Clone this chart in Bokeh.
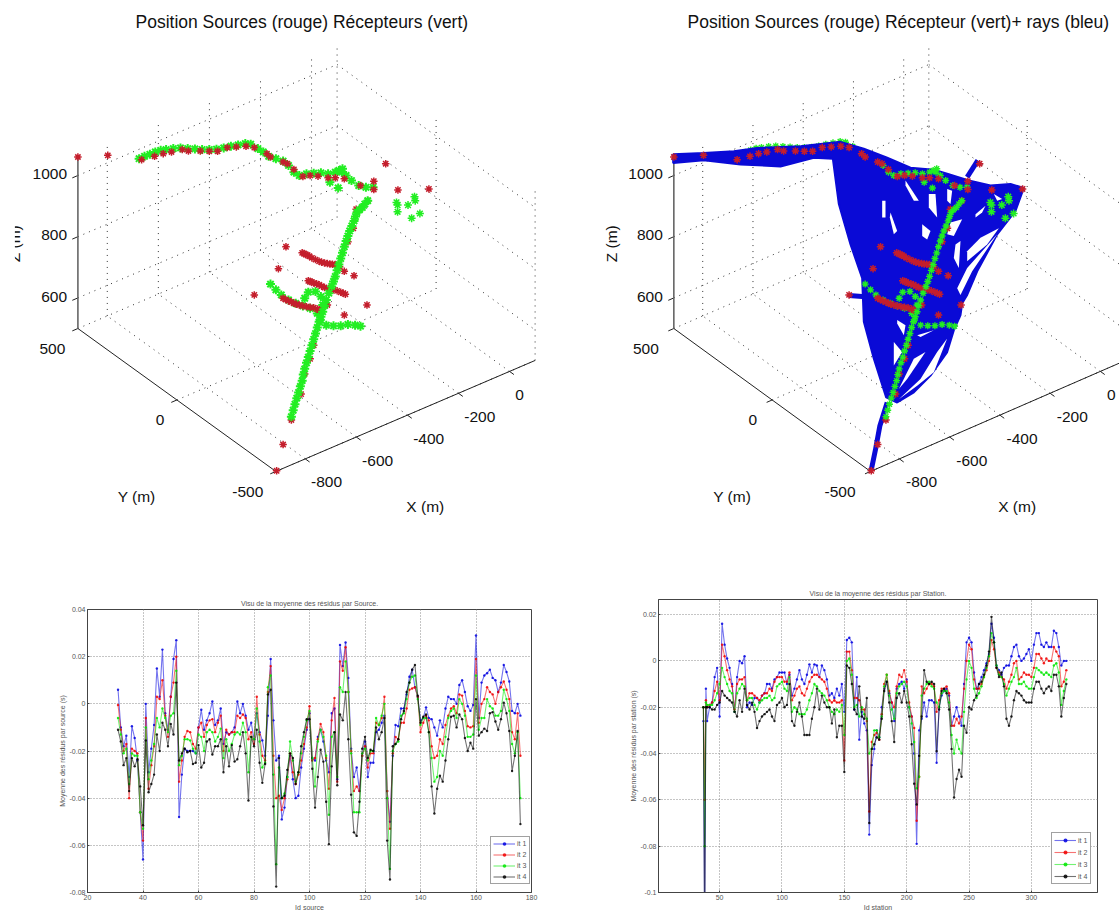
import numpy as np
from bokeh.embed import file_html
from bokeh.resources import INLINE
from bokeh.layouts import column, row
from bokeh.models import Range1d, FixedTicker, Legend, LegendItem, Title
from bokeh.plotting import figure
from bokeh.core.properties import value

FONT = "Liberation Sans"

# ---------- Residuals per source (ids 31..176) ----------
src_it1 = [.006,-.010,-.018,-.0135,-.031,-.0095,-.0145,-.024,-.046,-.066,
 0,-.029,-.019,-.009,.015,.003,.023,-.004,-.011,.003,
 .019,.027,-.048,-.030,-.019,-.020,-.020,-.020,-.021,-.010,
 -.0025,-.011,-.007,-.004,.001,-.009,-.007,-.002,-.017,-.012,
 -.013,-.012,-.010,.001,-.004,0,-.005,-.011,-.008,-.015,
 -.004,-.012,-.0155,-.022,-.005,.019,-.007,-.024,-.022,-.049,
 -.044,-.031,-.022,-.032,-.040,-.039,-.027,-.019,-.011,-.004,
 -.023,-.024,-.014,-.011,-.016,-.024,-.029,-.004,-.002,-.032,
 .025,.016,.026,.011,-.019,-.031,-.027,-.037,-.022,-.016,
 -.031,-.025,-.025,-.012,-.011,-.008,-.005,-.037,-.050,-.022,
 -.009,-.0095,-.002,-.002,.004,.0115,.0145,.007,.003,-.007,
 -.006,-.0015,-.006,-.0065,-.010,-.0135,-.007,-.010,-.002,.003,
 .002,.002,0,.008,.010,.005,-.001,-.003,-.0005,.029,
 -.006,.009,.012,.013,.0145,.011,.010,.005,.009,.0165,
 .0135,.0095,-.003,-.004,0,-.005]
src_it2 = [-.0005,-.011,-.020,-.017,-.040,-.019,-.020,-.021,-.046,-.058,
 -.006,-.036,-.026,-.018,.003,.002,.010,-.005,-.014,.003,
 .009,.020,-.033,-.024,-.014,-.0115,-.012,-.017,-.019,-.010,
 -.008,-.014,-.009,-.007,-.0065,-.012,-.008,-.005,-.020,-.011,
 -.013,-.012,-.012,-.005,-.006,-.0045,-.006,-.015,-.012,-.017,
 .003,-.013,-.022,-.024,.005,.016,-.022,-.040,-.039,-.045,
 -.040,-.032,-.021,-.029,-.034,-.030,-.024,-.017,-.010,-.001,
 -.024,-.023,-.015,-.0085,-.012,-.023,-.036,-.007,.0025,-.033,
 .018,.014,.024,.005,-.020,-.037,-.035,-.037,-.022,-.018,
 -.027,-.021,-.021,-.008,-.009,-.006,.003,-.037,-.053,-.021,
 -.014,-.015,-.008,-.008,-.002,.006,.0065,.007,.003,-.012,
 -.008,-.005,-.007,-.018,-.023,-.022,-.015,-.017,-.009,-.005,
 -.002,-.001,-.004,.004,.0035,-.003,-.0095,-.010,-.0095,.019,
 -.008,0,.002,.007,.005,.004,0,.005,.007,.0095,
 .006,.002,-.012,-.015,-.004,-.022]
src_it3 = [-.006,-.013,-.021,-.019,-.034,-.021,-.022,-.022,-.046,-.053,
 -.010,-.032,-.024,-.017,-.006,-.010,-.002,-.006,-.012,-.005,
 -.004,.014,-.026,-.022,-.015,-.015,-.0155,-.019,-.021,-.013,
 -.014,-.020,-.012,-.011,-.012,-.016,-.014,-.0105,-.023,-.015,
 -.020,-.017,-.013,-.012,-.013,-.008,-.012,-.029,-.014,-.015,
 -.002,-.016,-.027,-.025,.007,.012,-.030,-.068,-.027,-.040,
 -.038,-.031,-.016,-.024,-.033,-.029,-.021,-.014,-.007,-.003,
 -.023,-.035,-.016,-.011,-.014,-.022,-.047,-.014,-.012,-.031,
 .007,.005,.018,.005,-.021,-.046,-.046,-.046,-.021,-.019,
 -.024,-.020,-.020,-.006,-.009,-.005,0,-.040,-.070,-.020,
 -.017,-.016,-.005,-.004,.002,.009,.0115,.012,.002,-.009,
 -.006,-.006,-.012,-.023,-.033,-.031,-.020,-.022,-.014,-.006,
 -.003,-.002,-.006,.002,0,-.005,-.014,-.014,-.013,.012,
 -.011,-.006,-.006,.002,-.001,-.002,-.005,-.005,-.003,.006,
 .002,-.003,-.017,-.021,-.012,-.040]
src_it4 = [-.011,-.016,-.026,-.023,-.037,-.023,-.0265,-.0235,-.035,-.0515,
 -.0155,-.0375,-.034,-.030,-.013,-.020,-.008,-.011,-.018,-.0085,
 -.013,.009,-.024,-.021,-.019,-.0205,-.020,-.0255,-.025,-.0175,
 -.027,-.025,-.016,-.015,-.0215,-.018,-.018,-.015,-.029,-.018,
 -.0265,-.0175,-.0245,-.0235,-.018,-.012,-.021,-.041,-.014,-.018,
 -.011,-.025,-.0335,-.0255,.004,.006,-.0435,-.0775,-.023,-.040,
 -.039,-.028,-.021,-.023,-.034,-.029,-.018,-.012,-.0065,-.0065,
 -.0275,-.044,-.031,-.0195,-.0245,-.0415,-.0595,-.0265,-.012,-.0345,
 -.0045,-.007,.005,-.015,-.0385,-.0545,-.056,-.0415,-.019,-.014,
 -.023,-.0195,-.020,-.010,-.015,-.012,-.006,-.058,-.0745,-.018,
 -.017,-.015,-.0065,-.003,.005,.009,.0145,.0165,.0035,-.008,
 -.0055,-.0045,-.012,-.035,-.0465,-.036,-.0305,-.033,-.024,-.015,
 -.0055,-.005,-.010,-.0045,-.0065,-.0145,-.020,-.0165,-.019,.002,
 -.0135,-.012,-.0105,-.0115,-.004,-.0035,-.0075,-.011,-.0065,.0005,
 -.004,-.0115,-.0285,-.022,-.0115,-.051]

# ---------- Residuals per station (ids 37,38,39 then every second id 40..328) ----------
sta_ids_head = [37, 38, 39]
sta_it1 = [-.026,-.12,-.012,
 -.026,-.020,-.018,-.007,-.003,-.024,.016,.007,.001,-.003,
 -.010,-.022,-.007,0,-.001,.002,-.020,-.018,-.019,-.016,
 -.016,-.018,-.015,-.014,-.010,-.010,-.012,-.008,-.007,-.005,
 -.005,-.005,-.010,-.006,-.015,-.012,-.008,-.004,-.008,-.010,
 -.006,-.0015,-.005,-.0015,-.002,-.007,-.002,-.004,-.008,-.015,
 -.014,-.016,-.012,-.015,-.010,-.022,.009,.010,.008,-.021,
 -.007,-.034,-.022,-.027,-.030,-.075,-.045,-.038,-.030,-.033,
 -.020,-.012,-.009,-.014,-.018,-.026,-.012,-.010,-.009,-.012,
 -.008,-.020,-.024,-.040,-.079,-.030,-.025,-.018,-.024,-.017,
 -.017,-.018,-.044,-.020,-.015,-.013,-.012,-.015,-.028,-.024,
 -.020,-.024,-.028,-.010,.008,.010,.008,-.005,-.012,-.010,
 -.007,-.004,-.001,.003,.016,.010,-.002,-.004,-.006,-.003,
 -.002,-.002,.002,.006,.007,.002,0,.001,.003,.005,
 0,.007,.012,.012,.007,.006,.008,.006,.006,.013,
 .012,.006,-.002,0,0]
sta_it2 = [-.020,-.06,-.017,
 -.020,-.019,-.018,-.013,-.009,-.017,.007,.002,-.004,-.008,
 -.011,-.021,-.010,-.008,-.008,-.007,-.017,-.014,-.014,-.015,
 -.016,-.017,-.015,-.014,-.014,-.012,-.013,-.009,-.007,-.007,
 -.007,-.009,-.009,-.005,-.017,-.015,-.012,-.011,-.014,-.015,
 -.012,-.009,-.007,-.006,-.006,-.007,-.008,-.009,-.012,-.017,
 -.018,-.017,-.018,-.018,-.017,-.043,.004,.004,-.004,-.016,
 -.016,-.017,-.021,-.021,-.026,-.065,-.035,-.032,-.031,-.034,
 -.023,-.010,-.006,-.013,-.018,-.020,-.011,-.006,-.007,-.004,
 -.009,-.018,-.024,-.029,-.069,-.050,-.011,-.014,-.012,-.010,
 -.010,-.011,-.022,-.017,-.012,-.012,-.011,-.014,-.028,-.028,
 -.025,-.027,-.024,-.012,0,.007,.005,-.008,-.012,-.012,
 -.010,-.007,-.004,0,.009,.005,-.003,-.005,-.007,-.008,
 -.012,-.009,-.006,-.001,0,-.008,-.007,-.005,-.006,-.006,
 -.007,-.003,.003,.003,.001,-.001,.001,0,0,.006,
 .004,.002,-.011,-.009,-.004]
sta_it3 = [-.020,-.08,-.018,
 -.019,-.019,-.019,-.017,-.014,-.010,-.003,-.007,-.010,-.013,
 -.014,-.022,-.014,-.012,-.010,-.011,-.017,-.016,-.016,-.019,
 -.021,-.018,-.017,-.016,-.016,-.015,-.017,-.016,-.011,-.010,
 -.009,-.012,-.013,-.007,-.022,-.020,-.021,-.023,-.023,-.023,
 -.021,-.017,-.014,-.010,-.011,-.013,-.014,-.015,-.017,-.020,
 -.022,-.023,-.021,-.022,-.019,-.032,0,.001,-.006,-.020,
 -.019,-.024,-.020,-.023,-.025,-.040,-.038,-.030,-.030,-.033,
 -.024,-.011,-.006,-.015,-.021,-.025,-.014,-.011,-.010,-.009,
 -.011,-.020,-.027,-.035,-.055,-.050,-.015,-.012,-.010,-.009,
 -.011,-.012,-.018,-.020,-.014,-.013,-.013,-.018,-.032,-.040,
 -.034,-.038,-.040,-.022,-.008,0,-.003,-.012,-.016,-.014,
 -.011,-.007,-.003,.002,.012,.008,-.002,-.006,-.007,-.010,
 -.015,-.012,-.009,-.007,-.003,-.010,-.010,-.009,-.011,-.012,
 -.012,-.007,-.003,-.004,-.005,-.006,-.005,-.006,-.007,-.002,
 -.001,-.005,-.019,-.013,-.008]
sta_it4 = [-.020,-.12,-.020,
 -.020,-.020,-.021,-.021,-.019,-.018,-.013,-.015,-.016,-.017,
 -.018,-.022,-.024,-.017,-.022,-.012,-.019,-.021,-.018,-.022,
 -.029,-.026,-.024,-.023,-.022,-.021,-.024,-.026,-.019,-.018,
 -.016,-.020,-.019,-.010,-.026,-.028,-.022,-.018,-.024,-.032,
 -.032,-.032,-.025,-.020,-.012,-.021,-.015,-.018,-.020,-.020,
 -.027,-.021,-.033,-.028,-.028,-.048,-.002,-.003,-.010,-.021,
 -.023,-.011,-.024,-.025,-.016,-.070,-.038,-.036,-.033,-.034,
 -.025,-.013,-.009,-.018,-.026,-.035,-.016,-.014,-.018,-.013,
 -.018,-.024,-.036,-.053,-.062,-.041,-.024,-.004,-.009,-.010,
 -.009,-.010,-.039,-.021,-.013,-.012,-.014,-.021,-.038,-.059,
 -.051,-.047,-.050,-.028,-.031,-.020,-.021,-.017,-.015,-.010,
 -.009,-.006,-.002,.004,.019,.008,-.003,-.007,-.005,-.011,
 -.025,-.028,-.024,-.017,-.013,-.014,-.015,-.017,-.018,-.018,
 -.018,-.012,-.009,-.009,-.012,-.014,-.012,-.011,-.013,-.006,
 -.006,-.011,-.024,-.016,-.010]

# ---------- Sources and receivers as projected on the 3-D view (view units) ----------
red_u = [215,298,392,428,452,475,505,522,555,580,603,630,655,682,705,740,750,785,797,815,840,860,882,910,930,955,1000,1037,1037,1070,1104,1190,
 1020,988,980,965,955,982,793,772,705,1018,955,808,785,767,
 838,843,848,853,858,865,875,885,892,900,908,915,922,930,936,942,
 855,860,865,870,878,885,892,900,912,925,935,945,952,958,
 785,792,800,808,815,822,830,840,850,860,870,880,885,908,
 870,860,845,835]
red_v = [460,455,468,458,450,445,438,442,442,443,443,432,430,428,432,450,460,475,480,497,518,515,517,522,522,525,545,532,557,480,558,555,
 590,615,672,712,800,813,727,792,870,900,930,1242,1315,1393,
 745,747,750,752,755,760,765,770,773,775,777,778,779,780,783,786,
 828,830,832,835,837,840,844,848,852,855,858,862,865,868,
 880,884,888,891,895,898,900,903,905,907,908,912,915,900,
 1020,1060,1105,1165]
green_surf_u = [385,400,415,430,445,460,480,500,520,540,560,580,600,620,640,660,680,695,715,730,745,765,785,800,815,830,850,870,890,910,930,950,960,975,995,1015,1035,915,938,948,940]
green_surf_v = [465,458,452,445,440,438,435,433,435,436,438,438,437,433,428,424,420,422,435,445,458,465,472,485,505,515,510,508,507,510,505,495,515,530,545,550,550,535,552,505,500]
green_bore_u = [1020,1012,1005,997,990,986,982,976,970,965,960,955,950,945,940,935,930,925,920,912,905,900,895,890,885,880,875,870,865,860,855,850,845,841,838,833,828,823,818,813,808]
green_bore_v = [590,600,610,617,625,637,650,665,680,695,710,727,745,762,780,797,815,830,845,865,885,902,920,935,950,967,985,1002,1020,1037,1055,1072,1090,1107,1125,1142,1160,1177,1195,1213,1232]
green_branch_u = [750,765,780,800,820,840,860,880,888,845,855,875,890,895,905,925,945,965,985,1000]
green_branch_v = [838,855,870,885,895,903,910,925,945,880,862,860,875,900,960,962,962,958,960,963]
green_cluster_u = [1100,1103,1103,1132,1150,1152,1165,1142]
green_cluster_v = [595,603,623,603,578,590,628,642]

# ---------- Ray envelope and the gaps in it (right view units) ----------
rays_u = [218,310,400,470,600,720,790,860,930,1000,1040,1105,1170,1230,1270,1245,1190,1130,1100,1085,1080,1060,1040,990,940,890,857,820,790,785,750,715,697,640,540,420,310,218]
rays_v = [452,448,443,433,428,415,435,462,492,498,510,530,545,540,552,620,690,800,870,895,930,975,1040,1110,1160,1190,1175,1060,950,820,720,600,465,462,488,482,470,478]
gaps_u = [[1100,1140,1195,1160,1100],[1100,1190,1115,1080,1070],[1040,1055,1050,1040],[985,1005,1010,985],[915,955,940,915],
          [1125,1155,1145,1125],[1180,1205,1190],[1050,1085,1060,1040],[965,990,980,965],[870,890,880,868],[845,855,855,845],
          [1065,1080,1075,1060],[890,915,910,890],[880,905,880],[1010,1040,1000,950,895,960],[940,975,920,895],[950,1000,960]]
gaps_v = [[740,700,672,720,770],[790,690,800,870,850],[555,560,600,590],[570,570,640,610],[530,590,590,545],
          [630,605,625,640],[570,585,590],[655,645,695,690],[660,680,705,695],[625,680,690,640],[590,590,640,640],
          [720,710,790,760],[945,960,990,955],[1010,1040,1080],[1040,1000,1100,1140,1180,1120],[1060,1040,1120,1150],[990,975,995]]
ray_stub_u = [[860,838,825,812],[1100,1132],[745,785]]
ray_stub_v = [[1190,1260,1330,1392],[520,470],[872,875]]

x_ticks_3d = [-800,-600,-400,-200,0]
y_ticks_3d = [-500,0,500]
z_ticks_3d = [600,800,1000]
x_lim_3d, y_lim_3d, z_lim_3d = (-915,100), (-500,500), (500,1060)

STAR_RED, STAR_GREEN, RAY_BLUE = "#c41e2c", "#22ee22", "#0a0ad6"


def panel3d(title, title_left, L, F, R, x_rng, xf, xlabel_off, ylabel_off, zlab_x, zlab_right, ylab, xlab, rays):
    p = figure(width=590 if not rays else 529, height=575, output_backend="svg", toolbar_location=None,
               x_range=Range1d(*x_rng), y_range=Range1d(1704.4, 113.6), min_border=0, min_border_top=40,
               x_axis_type=None, y_axis_type=None, outline_line_color=None)
    p.frame_align = False
    p.grid.visible = False
    p.add_layout(Title(text=title, align="left", offset=title_left, text_font=FONT,
                       text_font_size="17.5px", text_font_style="normal", text_color="#111", standoff=18), "above")
    kz = 0.91

    def proj(X, Y, Z):
        tx, ty = (X-x_lim_3d[0])/(x_lim_3d[1]-x_lim_3d[0]), (Y-y_lim_3d[0])/(y_lim_3d[1]-y_lim_3d[0])
        return (F[0]+tx*(R[0]-F[0])+ty*(L[0]-F[0]), F[1]+tx*(R[1]-F[1])+ty*(L[1]-F[1])-(Z-z_lim_3d[0])*kz)

    def seg(a, b):
        pa, pb = proj(*a), proj(*b)
        return [pa[0], pb[0]], [pa[1], pb[1]]

    x0, x1 = x_lim_3d; y0, y1 = y_lim_3d; z0, z1 = z_lim_3d
    segs = []
    for X in x_ticks_3d:
        segs += [seg((X,y0,z0),(X,y1,z0)), seg((X,y1,z0),(X,y1,z1))]
    for Y in y_ticks_3d:
        segs += [seg((x0,Y,z0),(x1,Y,z0)), seg((x1,Y,z0),(x1,Y,z1))]
    for Z in z_ticks_3d:
        segs += [seg((x0,y1,Z),(x1,y1,Z)), seg((x1,y1,Z),(x1,y0,Z))]
    p.multi_line([s[0] for s in segs], [s[1] for s in segs], line_color="#333", line_width=1, line_dash="1 5")

    axes = [seg((x0,y1,z0),(x0,y0,z0)), seg((x0,y0,z0),(x1,y0,z0))]
    for X in x_ticks_3d:
        axes.append(seg((X,y0,z0),(X,y0-22,z0)))
    for Y in y_ticks_3d:
        axes.append(seg((x0,Y,z0),(x0-22,Y,z0)))
    for Z in z_ticks_3d:
        axes.append(seg((x0,y1,Z),(x0-22,y1,Z)))
    p.multi_line([s[0] for s in axes], [s[1] for s in axes], line_color="#222", line_width=1)
    zax = seg((x0,y1,z0),(x0,y1,z1))
    p.line(zax[0], zax[1], line_color="#666", line_width=1.6)

    def txt(x, y, t, align="center", angle=0.0):
        p.text([x], [y], text=[t], text_font=value(FONT), text_font_size="15.5px", text_color="#111",
               text_align=align, text_baseline="middle", angle=angle)

    for X in x_ticks_3d:
        u, v = proj(X, y0, z0)
        txt(u+xlabel_off[0], v+xlabel_off[1], str(X), "left")
    for Y in y_ticks_3d:
        u, v = proj(x0, Y, z0)
        txt(u+ylabel_off[0], v+ylabel_off[1], str(Y), "right")
    for Z in z_ticks_3d:
        u, v = proj(x0, y1, Z)
        txt(zlab_right, v-4, str(Z), "right")
    txt(ylab[0], ylab[1], "Y (m)")
    txt(xlab[0], xlab[1], "X (m)")
    txt(zlab_x, 718, "Z (m)", angle=np.pi/2)
    if not rays:
        # the page edge of the original cuts the left of the Z label
        p.quad(left=[x_rng[0]], right=[40], top=[600], bottom=[850], fill_color="white", line_color=None)

    su = np.array(green_surf_u, float); sv = np.array(green_surf_v, float)
    ru = np.array(red_u, float); rv = np.array(red_v, float)
    gs = dict(marker="asterisk", size=7, line_width=1.4) if rays else dict(marker="asterisk", size=9, line_width=2)
    cs = dict(marker="asterisk", size=8, line_width=1.5)
    rs = dict(marker="asterisk", size=7.5, line_width=1.5)
    if rays:
        m = su < 800
        p.scatter(xf(su[m]), sv[m]-6, line_color=STAR_GREEN, **gs)
        p.patch(rays_u, rays_v, fill_color=RAY_BLUE, line_color=RAY_BLUE, line_width=2)
        p.patches(gaps_u, gaps_v, fill_color="white", line_color=None)
        p.multi_line(ray_stub_u, ray_stub_v, line_color=RAY_BLUE, line_width=5)
        p.scatter(xf(su[~m]), sv[~m], line_color=STAR_GREEN, **gs)
    else:
        p.scatter(xf(su), sv, line_color=STAR_GREEN, **gs)
    p.scatter(xf(np.array(green_branch_u, float)), green_branch_v, line_color=STAR_GREEN, **gs)
    p.scatter(xf(ru), rv, line_color=STAR_RED, **rs)
    p.scatter(xf(np.array(green_bore_u, float)), green_bore_v, line_color=STAR_GREEN, **gs)
    p.scatter(xf(np.array(green_cluster_u, float)), green_cluster_v, line_color=STAR_GREEN, **cs)
    return p


p1 = panel3d("Position Sources (rouge) Récepteurs (vert)", 135,
             (215,970), (765,1395), (1485,1065), (0,1638.9), lambda a: a,
             (16,70), (-35,60), 38, 185, (378,1470), (1180,1498), False)
p2 = panel3d("Position Sources (rouge) Récepteur (vert)+ rays (bleu)", 97,
             (220,970), (810,1395), (1575,1065), (-30,1557), lambda a: 220+(a-215)*1.073,
             (20,70), (-45,60), 32, 187, (395,1470), (1250,1498), True)

COLORS = ["#0000e0", "#f00000", "#00e800", "#000000"]
NAMES = ["it 1", "it 2", "it 3", "it 4"]


def panel2d(title, xlabel, ylabel, xs, series, xr, yr, xticks, yticks, ylabels, width, b_left, b_right, b_top, leg_loc, leg_h):
    p = figure(width=width, height=338, output_backend="svg", toolbar_location=None,
               x_range=Range1d(*xr), y_range=Range1d(*yr),
               min_border_left=b_left, min_border_right=b_right, min_border_top=b_top, min_border_bottom=21,
               outline_line_color="#444", outline_line_width=1)
    p.frame_align = False
    p.title.text = title
    p.title.align = "center"
    p.title.text_font = FONT
    p.title.text_font_size = "7px"
    p.title.text_font_style = "normal"
    p.title.text_color = "#555"
    p.title.standoff = 5
    for ax, lab in ((p.xaxis[0], xlabel), (p.yaxis[0], ylabel)):
        ax.axis_label = lab
        ax.axis_label_text_font = FONT
        ax.axis_label_text_font_size = "7px"
        ax.axis_label_text_font_style = "normal"
        ax.axis_label_text_color = "#555"
        ax.major_label_text_font = FONT
        ax.major_label_text_font_size = "7px"
        ax.major_label_text_color = "#555"
        ax.major_tick_in = 2
        ax.major_tick_out = 0
        ax.minor_tick_line_color = None
        ax.axis_line_color = "#444"
        ax.major_tick_line_color = "#444"
        ax.major_label_standoff = 2
        ax.axis_label_standoff = 1
    p.xaxis[0].ticker = FixedTicker(ticks=xticks)
    p.yaxis[0].ticker = FixedTicker(ticks=yticks)
    p.yaxis[0].major_label_overrides = dict(zip(yticks, ylabels))
    p.grid.grid_line_color = "#8a8a8a"
    p.grid.grid_line_dash = "1 2"
    p.grid.grid_line_width = 1
    items = []
    for name, col, ys in zip(NAMES, COLORS, series):
        l = p.line(xs, ys, line_color=col, line_width=1.1, line_alpha=0.55)
        m = p.scatter(xs, ys, marker="circle", size=2.4, fill_color=col, line_color=None, fill_alpha=0.85)
        items.append(LegendItem(label=name, renderers=[l, m]))
    leg = Legend(items=items, location=leg_loc, orientation="vertical", label_text_font=FONT,
                 label_text_font_size="7px", label_text_color="#555", label_height=leg_h, glyph_height=leg_h,
                 glyph_width=22, label_width=10, label_standoff=2, spacing=2, padding=2, margin=0,
                 border_line_color="#444", border_line_width=1, background_fill_alpha=1)
    p.add_layout(leg, "center")
    return p


src_ids = np.arange(31, 31+len(src_it1))
sta_ids = np.concatenate([sta_ids_head, np.arange(40, 330, 2)])
p3 = panel2d("Visu de la moyenne des résidus par Source.", "Id source", "Moyenne des résidus par source (s)",
             src_ids, [src_it1, src_it2, src_it3, src_it4], (20,180), (-0.08,0.04),
             [20,40,60,80,100,120,140,160,180], [-.08,-.06,-.04,-.02,0,.02,.04],
             ["-0.08","-0.06","-0.04","-0.02","0","0.02","0.04"], 590, 87, 59, 34, (403,8), 9)
p4 = panel2d("Visu de la moyenne des résidus par Station.", "Id station", "Moyenne des résidus par station (s)",
             sta_ids, [sta_it1, sta_it2, sta_it3, sta_it4], (1,353), (-0.1,0.0265),
             [50,100,150,200,250,300], [-.1,-.08,-.06,-.04,-.02,0,.02],
             ["-0.1","-0.08","-0.06","-0.04","-0.02","0","0.02"], 529, 68, 22, 24, (393,8), 10)

layout = column(row(p1, p2, spacing=0), row(p3, p4, spacing=0), spacing=0)
open("out.html", "w").write(file_html(layout, INLINE))
